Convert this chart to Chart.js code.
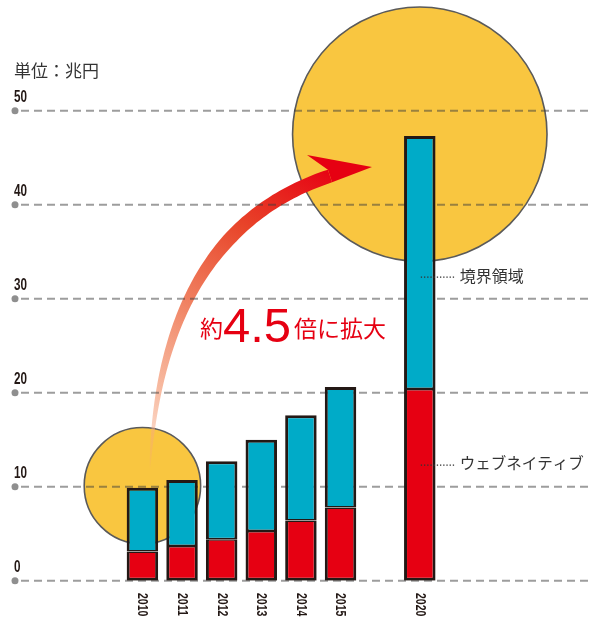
<!DOCTYPE html>
<html><head><meta charset="utf-8">
<script src="https://cdn.jsdelivr.net/npm/chart.js@4"></script>
<style>html,body{margin:0;padding:0;background:#fff;}canvas{display:block;}</style>
</head><body>
<canvas id="c" width="592" height="618"></canvas>
<script>
// ---- data ----
const categories = ['2010','2011','2012','2013','2014','2015','','2020'];
const webNative  = [3.1, 3.7, 4.4, 5.3, 6.4, 7.8, null, 20.4];   // red
const boundary   = [6.8, 7.0, 8.3, 9.7, 11.2, 12.8, null, 26.9]; // blue
const yTicks     = [0, 10, 20, 30, 40, 50];
const unitLabel  = '単位：兆円';
const seriesNames = ['ウェブネイティブ', '境界領域'];
const growthText = ['約', '4.5', '倍に拡大'];
const circleIdx  = [0, 7];
const labelValues = [12.3, 32.3]; // where the series leaders sit (value units)

const RED = '#e60012', BLUE = '#00abc8', YELLOW = '#f9c640', DARK = '#231815';
const CJK = '"Noto Sans CJK JP","Noto Sans CJK SC",sans-serif';
const NUMF = '"Liberation Sans",Arial,sans-serif';

const deco = {
  id: 'deco',
  beforeDatasetsDraw(chart) {
    const ctx = chart.ctx, xs = chart.scales.x, ys = chart.scales.y;
    ctx.save();
    circleIdx.forEach(i => {
      const total = webNative[i] + boundary[i];
      const cx = xs.getPixelForValue(i), cy = ys.getPixelForValue(total + 0.2);
      const r = 18.5 * Math.sqrt(total);
      ctx.beginPath(); ctx.arc(cx, cy, r, 0, Math.PI * 2);
      ctx.fillStyle = YELLOW; ctx.fill();
      ctx.lineWidth = 1.6; ctx.strokeStyle = '#5a5a5a'; ctx.stroke();
    });
    drawArrow(ctx);
    yTicks.forEach(v => {
      const y = ys.getPixelForValue(v);
      ctx.beginPath(); ctx.setLineDash([8, 5]);
      ctx.moveTo(21, y); ctx.lineTo(592, y);
      ctx.lineWidth = 2; ctx.strokeStyle = 'rgba(60,60,60,0.5)'; ctx.stroke();
      ctx.setLineDash([]);
      ctx.beginPath(); ctx.arc(15, y, 3.5, 0, Math.PI * 2);
      ctx.fillStyle = '#8f8f8f'; ctx.fill();
    });
    ctx.restore();
  },
  afterDatasetsDraw(chart) {
    const ctx = chart.ctx, xs = chart.scales.x, ys = chart.scales.y;
    ctx.save();
    ctx.fillStyle = DARK; ctx.textAlign = 'left'; ctx.textBaseline = 'alphabetic';
    ctx.font = 'bold 16px ' + NUMF;
    yTicks.forEach(v => {
      const y = ys.getPixelForValue(v);
      ctx.save(); ctx.translate(14, y - 8.5); ctx.scale(0.73, 1);
      ctx.fillText(String(v), 0, 0); ctx.restore();
    });
    ctx.font = 'bold 15px ' + NUMF; ctx.textBaseline = 'middle';
    categories.forEach((c, i) => {
      if (!c) return;
      const x = xs.getPixelForValue(i);
      ctx.save(); ctx.translate(x, 593); ctx.rotate(Math.PI / 2); ctx.scale(0.7, 1);
      ctx.fillText(c, 0, 0); ctx.restore();
    });
    ctx.fillStyle = '#333'; ctx.font = '17px ' + CJK; ctx.textBaseline = 'middle';
    ctx.fillText(unitLabel, 14, 71);
    const bx = xs.getPixelForValue(7);
    [0, 1].forEach(s => {
      const y = ys.getPixelForValue(labelValues[s]);
      ctx.fillStyle = '#333';
      for (let x = bx + 1; x <= bx + 36; x += 3.2) ctx.fillRect(x, y - 0.6, 1.3, 1.3);
      ctx.font = (s === 0 ? '15.5px ' : '16px ') + CJK;
      ctx.fillText(seriesNames[s], bx + 40, y - 1.5);
    });
    ctx.fillStyle = RED;
    ctx.font = '23px ' + CJK; ctx.textBaseline = 'middle';
    ctx.fillText(growthText[0], 200, 328);
    ctx.font = '49px ' + NUMF; ctx.textBaseline = 'alphabetic';
    ctx.fillText(growthText[1], 223, 342);
    ctx.font = '23px ' + CJK; ctx.textBaseline = 'middle';
    ctx.fillText(growthText[2], 294, 328);
    ctx.restore();
  }
};

function drawArrow(ctx) {
  const P0 = {x:150, y:468}, P1 = {x:162, y:231}, P2 = {x:330, y:176};
  const N = 80, lo = [], hi = [];
  for (let k = 0; k <= N; k++) {
    const t = k / N, u = 1 - t;
    const x = u*u*P0.x + 2*u*t*P1.x + t*t*P2.x;
    const y = u*u*P0.y + 2*u*t*P1.y + t*t*P2.y;
    const dx = 2*u*(P1.x-P0.x) + 2*t*(P2.x-P1.x);
    const dy = 2*u*(P1.y-P0.y) + 2*t*(P2.y-P1.y);
    const len = Math.hypot(dx, dy), nx = -dy/len, ny = dx/len;
    const h = (13 * Math.pow(Math.min(1, t/0.65), 0.7) + 0.4) / 2;
    lo.push([x + nx*h, y + ny*h]); hi.push([x - nx*h, y - ny*h]);
  }
  const g = ctx.createLinearGradient(150, 468, 340, 172);
  g.addColorStop(0, 'rgba(245,160,120,0.15)');
  g.addColorStop(0.2, 'rgba(246,175,145,0.85)');
  g.addColorStop(0.45, '#f08262');
  g.addColorStop(0.72, '#e8452a');
  g.addColorStop(1, RED);
  ctx.beginPath();
  lo.forEach((p, i) => i ? ctx.lineTo(p[0], p[1]) : ctx.moveTo(p[0], p[1]));
  for (let i = hi.length - 1; i >= 0; i--) ctx.lineTo(hi[i][0], hi[i][1]);
  ctx.closePath(); ctx.fillStyle = g; ctx.fill();
  const a = hi[N], b = lo[N];
  ctx.beginPath();
  ctx.moveTo(a[0], a[1]); ctx.lineTo(307, 155); ctx.lineTo(372, 167); ctx.lineTo(b[0], b[1]);
  ctx.closePath(); ctx.fillStyle = RED; ctx.fill();
}

new Chart(document.getElementById('c'), {
  type: 'bar',
  data: {
    labels: categories,
    datasets: [
      { label: seriesNames[0], data: webNative, backgroundColor: RED, borderColor: DARK,
        borderWidth: {left:3, right:3, bottom:3, top:1.5}, borderSkipped: false },
      { label: seriesNames[1], data: boundary, backgroundColor: BLUE, borderColor: DARK,
        borderWidth: {left:3, right:3, top:3, bottom:1.5}, borderSkipped: false }
    ]
  },
  options: {
    responsive: false, animation: false, devicePixelRatio: 1,
    layout: { padding: { left: 122.6, right: 152.4, top: 110.7, bottom: 37.3 } },
    datasets: { bar: { categoryPercentage: 1, barPercentage: 0.795 } },
    scales: {
      x: { display: false, stacked: true },
      y: { display: false, stacked: true, min: 0, max: 50 }
    },
    plugins: { legend: { display: false }, tooltip: { enabled: false } }
  },
  plugins: [deco]
});
</script>
</body></html>
